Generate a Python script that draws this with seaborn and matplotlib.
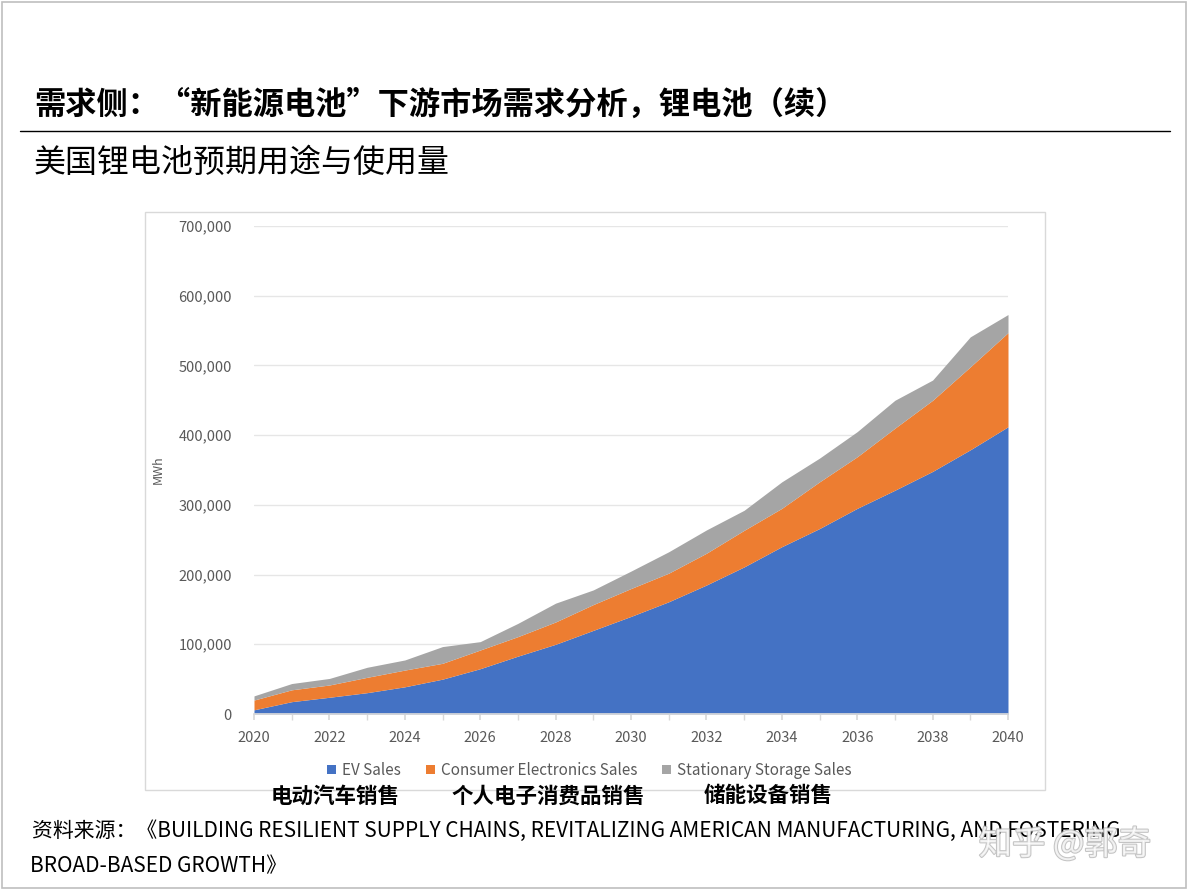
import numpy as np
import pandas as pd
import matplotlib
matplotlib.use("Agg")
import matplotlib.pyplot as plt
import matplotlib.patheffects as pe
import seaborn as sns
from matplotlib.patches import Rectangle
from matplotlib.ticker import FuncFormatter, MultipleLocator

sns.set_theme(style="white")
plt.rcParams["font.family"] = ["Noto Sans CJK SC", "DejaVu Sans"]

# 数据（单位：MWh，从原图估读）
years = list(range(2020, 2041))
ev_sales = [6000, 17700, 24000, 30600, 39000, 50000, 65000, 83000, 100000, 120000,
            140000, 161000, 185000, 211000, 240000, 266000, 295000, 321000, 348000,
            379000, 412000]
consumer_electronics = [14000, 17000, 17600, 22000, 24000, 22700, 26800, 28000, 32000,
                        37000, 40000, 41000, 45600, 52500, 55000, 67000, 74000, 89000,
                        102000, 119000, 135000]
stationary_storage = [6000, 9000, 9400, 14400, 14500, 24000, 12000, 19000, 27000, 21000,
                      25000, 30700, 33400, 28700, 38000, 34000, 36000, 40000, 29000,
                      43000, 26000]
series_names = ["EV Sales", "Consumer Electronics Sales", "Stationary Storage Sales"]
series_cn = ["电动汽车销售", "个人电子消费品销售", "储能设备销售"]
colors = ["#4472C4", "#ED7D31", "#A5A5A5"]

df = pd.DataFrame({
    "year": years,
    series_names[0]: ev_sales,
    series_names[1]: consumer_electronics,
    series_names[2]: stationary_storage,
})

fig = plt.figure(figsize=(11.88, 8.90), dpi=100)

# 幻灯片外框
fig.patches.append(Rectangle((0.002, 0.002), 0.996, 0.996, transform=fig.transFigure,
                             fill=False, edgecolor="#BFBFBF", linewidth=1.2))

fig.text(34 / 1188, 1 - 105 / 890, "需求侧：“新能源电池”下游市场需求分析，锂电池（续）",
         fontsize=22.5, fontweight="bold", color="black", va="center", ha="left")
fig.add_artist(plt.Line2D([20 / 1188, 1170 / 1188], [1 - 131 / 890, 1 - 131 / 890],
                          transform=fig.transFigure, color="black", linewidth=1))
fig.text(34 / 1188, 1 - 163 / 890, "美国锂电池预期用途与使用量",
         fontsize=23, color="black", va="center", ha="left")

# 图表外框
fig.patches.append(Rectangle((145 / 1188, 1 - 790 / 890), 900 / 1188, 578 / 890,
                             transform=fig.transFigure, fill=False,
                             edgecolor="#D9D9D9", linewidth=1))

ax = fig.add_axes([254 / 1188, 1 - 714 / 890, 754 / 1188, 488 / 890])
ax.stackplot(df["year"], df[series_names[0]], df[series_names[1]], df[series_names[2]],
             labels=series_names, colors=colors, linewidth=0)

ax.set_xlim(2020, 2040)
ax.set_ylim(0, 700000)
ax.yaxis.set_major_locator(MultipleLocator(100000))
ax.yaxis.set_major_formatter(FuncFormatter(lambda v, p: f"{int(v):,}"))
ax.xaxis.set_major_locator(MultipleLocator(2))
ax.xaxis.set_minor_locator(MultipleLocator(1))
ax.grid(axis="y", color="#E6E6E6", linewidth=1)
ax.set_axisbelow(True)
for s in ["top", "right", "left"]:
    ax.spines[s].set_visible(False)
ax.spines["bottom"].set_color("#D9D9D9")
ax.tick_params(axis="y", length=0, labelsize=10.5, labelcolor="#595959", pad=16)
ax.tick_params(axis="x", which="both", bottom=True, length=4, color="#D9D9D9",
               labelsize=10.5, labelcolor="#595959", pad=8)
ax.set_ylabel("MWh", fontsize=9, color="#595959", labelpad=10)

leg = ax.legend(loc="upper center", bbox_to_anchor=(0.445, -0.07), ncol=3, frameon=False,
                fontsize=11, handlelength=0.6, handleheight=0.6, columnspacing=1.6,
                handletextpad=0.4)
for t in leg.get_texts():
    t.set_color("#595959")

for name, xpix in zip(series_cn, [335, 548, 768]):
    fig.text(xpix / 1188, 1 - 796 / 890, name, fontsize=15.5, fontweight="bold",
             ha="center", va="center", color="black")

fig.text(32 / 1188, 1 - 831 / 890,
         "资料来源：《BUILDING RESILIENT SUPPLY CHAINS, REVITALIZING AMERICAN MANUFACTURING, AND FOSTERING",
         fontsize=15, ha="left", va="center", color="black")
fig.text(30 / 1188, 1 - 866 / 890, "BROAD-BASED GROWTH》",
         fontsize=15, ha="left", va="center", color="black")

fig.text(1065 / 1188, 1 - 845 / 890, "知乎 @郭奇", fontsize=24, ha="center", va="center",
         color="white", alpha=0.75,
         path_effects=[pe.withStroke(linewidth=1.5, foreground="#B0B0B0")])

fig.savefig("out.png", dpi=100)
